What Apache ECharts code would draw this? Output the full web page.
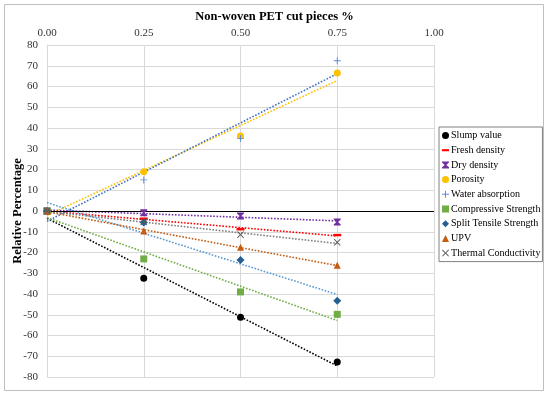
<!DOCTYPE html>
<html><head><meta charset="utf-8">
<script src="https://cdn.jsdelivr.net/npm/echarts@6/dist/echarts.min.js"></script>
<style>html,body{margin:0;padding:0;background:#fff}#c{width:550px;height:396px}</style>
</head><body><div id="c"></div>
<script>
const xVals = [0, 0.25, 0.5, 0.75];
const xTicks = ['0.00', '0.25', '0.50', '0.75', '1.00'];
const names = ['Slump value','Fresh density','Dry density','Porosity','Water absorption','Compressive Strength','Split Tensile Strength','UPV','Thermal Conductivity'];
const slump = [0, -32.4, -51.2, -72.8];
const fresh = [0, -3.7, -8.8, -11.6];
const dry = [0, -0.9, -2.4, -5.3];
const porosity = [0, 18.9, 36.1, 66.5];
const water = [0, 15, 35, 72.4];
const compressive = [0, -23.1, -39, -49.8];
const split = [0, -5.6, -23.6, -43.2];
const upv = [0, -9.6, -17.5, -26.2];
const thermal = [0, -5.3, -11.4, -15.1];

const seriesVals = [slump, fresh, dry, porosity, water, compressive, split, upv, thermal];
const markerColors = ['#000000','#ff0000','#7030a0','#ffc000','#5b8fd6','#70ad47','#255e91','#c55a11','#595959'];
const lineColors = ['#000000','#ff0000','#7030a0','#ffc000','#4472c4','#70ad47','#5b9bd5','#c55a11','#7f7f7f'];
const symbols = ['circle','path://M0,0L10,0L10,3L0,3Z','path://M0,0L10,0L10,1.5L6.2,5L10,8.5L10,10L0,10L0,8.5L3.8,5L0,1.5Z','circle','path://M4.3,0L5.7,0L5.7,4.3L10,4.3L10,5.7L5.7,5.7L5.7,10L4.3,10L4.3,5.7L0,5.7L0,4.3L4.3,4.3Z','rect','diamond','triangle','path://M0,1L1,0L5,4L9,0L10,1L6,5L10,9L9,10L5,6L1,10L0,9L4,5Z'];
const sizes = [7,8,[7,7],7,[7,7],7,8,7,[7,7]];

function trend(ys){
  const n = xVals.length;
  const mx = xVals.reduce((a,b)=>a+b,0)/n, my = ys.reduce((a,b)=>a+b,0)/n;
  let sxy=0, sxx=0;
  for(let i=0;i<n;i++){sxy+=(xVals[i]-mx)*(ys[i]-my);sxx+=(xVals[i]-mx)**2;}
  const b = sxy/sxx, a = my-b*mx;
  const x0 = xVals[0], x1 = xVals[n-1];
  return [[x0, a+b*x0],[x1, a+b*x1]];
}

const series = [];
seriesVals.forEach((ys,i)=>{
  series.push({
    name: names[i]+' trend', type:'line', data: trend(ys), showSymbol:false, silent:true, z:2,
    lineStyle:{color:lineColors[i], width:1.6, type:[1.6,1.6]}, animation:false
  });
});
seriesVals.forEach((ys,i)=>{
  series.push({
    name: names[i], type:'scatter', data: xVals.map((x,j)=>[x, ys[j]]),
    symbol: symbols[i], symbolSize: sizes[i], symbolKeepAspect: i===1, z:5,
    itemStyle:{color:markerColors[i], opacity:1}, animation:false
  });
});
series[0].markLine = {silent:true, symbol:'none', label:{show:false}, animation:false,
  lineStyle:{color:'#000', width:1.2, type:'solid'}, data:[{yAxis:0}]};

const serif = '"Liberation Serif","Times New Roman",serif';
const chart = echarts.init(document.getElementById('c'));
chart.setOption({
  backgroundColor:'#fff',
  animation:false,
  grid:{left:47, right:116, top:45, bottom:19, containLabel:false, outerBoundsMode:'none'},
  xAxis:{type:'value', position:'top', min:0, max:1, interval:0.25,
    name:'Non-woven PET cut pieces %', nameLocation:'middle', nameGap:22, nameMoveOverlap:false,
    nameTextStyle:{fontFamily:serif, fontWeight:'bold', fontSize:12.5, color:'#000', padding:[0,0,0,68]},
    axisLine:{show:false}, axisTick:{show:false},
    axisLabel:{fontFamily:serif, fontSize:11, color:'#333', margin:6, formatter:(v)=>xTicks[Math.round(v/0.25)]},
    splitLine:{lineStyle:{color:'#d9d9d9', width:1}}},
  yAxis:{type:'value', min:-80, max:80, interval:10,
    name:'Relative Percentage', nameLocation:'middle', nameGap:23, nameMoveOverlap:false,
    nameTextStyle:{fontFamily:serif, fontWeight:'bold', fontSize:12.5, color:'#000'},
    axisLine:{show:true, onZero:false, lineStyle:{color:'#d9d9d9'}}, axisTick:{show:false},
    axisLabel:{fontFamily:serif, fontSize:11, color:'#333', margin:9},
    splitLine:{lineStyle:{color:'#d9d9d9', width:1}}},
  legend:{orient:'vertical', left:439, top:127, data:names, itemWidth:7, itemHeight:7, itemGap:3.7,
    borderColor:'#808080', borderWidth:1, padding:[3,2,3,3], backgroundColor:'#fff',
    textStyle:{fontFamily:serif, fontSize:10.1, lineHeight:11, color:'#000', padding:[0,0,0,-3]}},
  graphic:[{type:'rect', shape:{x:4.5,y:4.5,width:539,height:386}, style:{fill:null, stroke:'#bfbfbf', lineWidth:1}, silent:true, z:-1}],
  series
});
</script></body></html>
